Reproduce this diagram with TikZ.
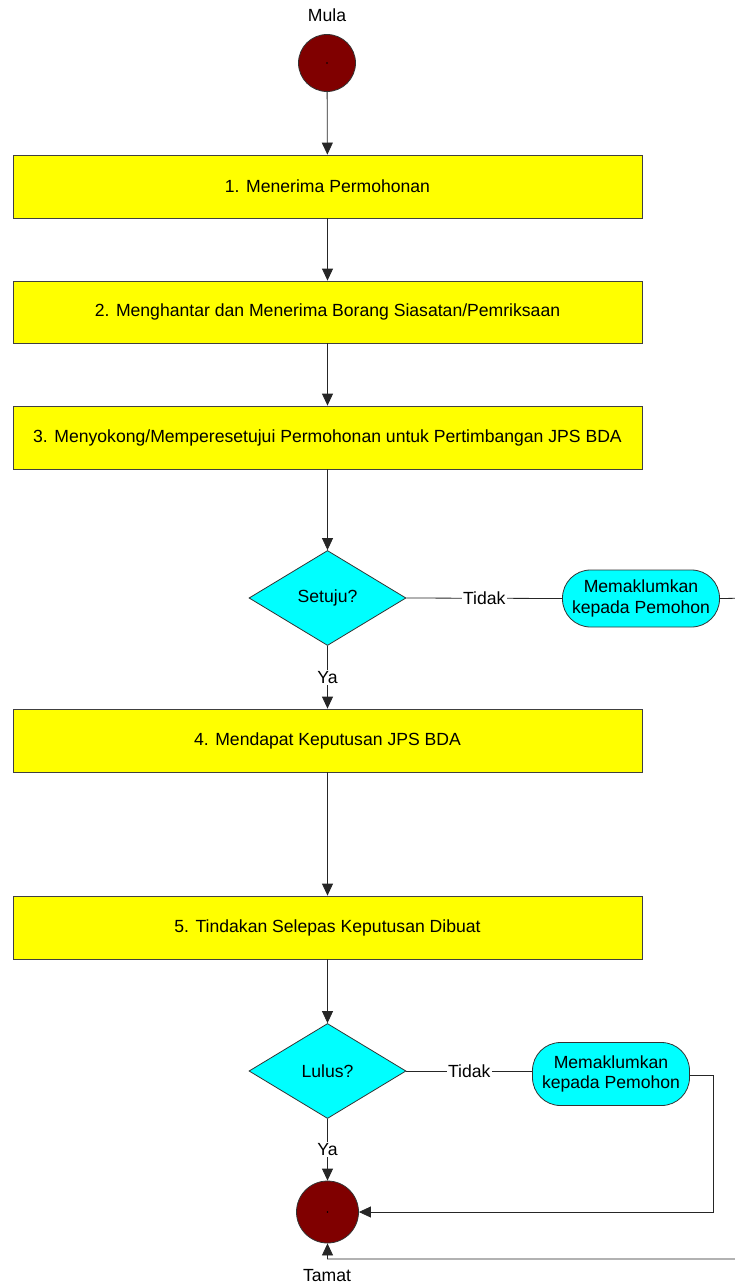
\documentclass[tikz,border=0pt]{standalone}
\usepackage{fontspec}
\setmainfont{Liberation Sans}
\usetikzlibrary{arrows.meta,shapes.geometric}
\definecolor{boxyellow}{HTML}{FFFF00}
\definecolor{decisioncyan}{HTML}{00FFFF}
\definecolor{termred}{HTML}{800000}
\begin{document}
\begin{tikzpicture}[x=1pt,y=-1pt,
  every node/.style={font=\fontsize{17.6}{20.7}\selectfont},
  procbox/.style={draw=black!75,line width=0.8pt,fill=boxyellow,minimum width=629pt,minimum height=63pt,inner sep=0pt},
  decide/.style={diamond,draw=black!80,line width=0.8pt,fill=decisioncyan,minimum width=157pt,minimum height=95pt,inner sep=0pt},
  notify/.style={draw=black!80,line width=0.8pt,fill=decisioncyan,rounded corners=28pt,minimum width=157pt,inner sep=0pt,align=center},
  term/.style={circle,draw=black!80,line width=0.8pt,fill=termred,inner sep=0pt},
  conn/.style={draw=black!85,line width=0.8pt},
  arr/.style={conn,-{Triangle[length=12pt,width=11pt]}},
  lbl/.style={fill=white,inner sep=1.5pt}
]
\useasboundingbox (0,0) rectangle (734,1287);
% terminals
\node (mula) at (327,15) {Mula};
\node[term,minimum size=57pt] (start) at (327,63) {};
\fill (start.center) circle (0.9pt);
% process boxes
\node[procbox] (b1) at (327.5,186.5) {1. Menerima Permohonan};
\node[procbox,minimum height=62pt] (b2) at (327.5,312) {2. Menghantar dan Menerima Borang Siasatan/Pemriksaan};
\node[procbox] (b3) at (327.5,437.5) {3. Menyokong/Memperesetujui Permohonan untuk Pertimbangan JPS BDA};
\node[decide] (d1) at (327.5,598) {Setuju?};
\node[notify,minimum height=57pt] (r1) at (641,598.5) {Memaklumkan\\kepada Pemohon};
\node[procbox] (b4) at (327.5,740.5) {4. Mendapat Keputusan JPS BDA};
\node[procbox] (b5) at (327.5,927.5) {5. Tindakan Selepas Keputusan Dibuat};
\node[decide] (d2) at (327.5,1071) {Lulus?};
\node[notify,minimum height=63pt] (r2) at (611,1074) {Memaklumkan\\kepada Pemohon};
\node[term,minimum size=62pt] (end) at (327.5,1212) {};
\fill (end.center) circle (0.9pt);
\node (tamat) at (327,1276) {Tamat};
\coordinate (out1) at (760,598);
\coordinate (out2) at (760,1259);
% connectors
\draw[arr] (start) -- (b1);
\draw[arr] (b1) -- (b2);
\draw[arr] (b2) -- (b3);
\draw[arr] (b3) -- (d1);
\draw[conn] (d1.east) -- node[lbl] {Tidak} (r1.west);
\draw[arr] (d1.south) -- node[lbl] {Ya} (b4.north);
\draw[arr] (b4) -- (b5);
\draw[arr] (b5) -- (d2);
\draw[conn] (d2.east) -- node[lbl] {Tidak} (d2.east -| r2.west);
\draw[arr] (d2.south) -- node[lbl] {Ya} (end.north);
\draw[arr] ([yshift=-1pt]r2.east) -- ++(23,0) |- (end.east);
\draw[arr] (r1.east) -- (out1) -- (out2) -| (end.south);
\end{tikzpicture}
\end{document}
